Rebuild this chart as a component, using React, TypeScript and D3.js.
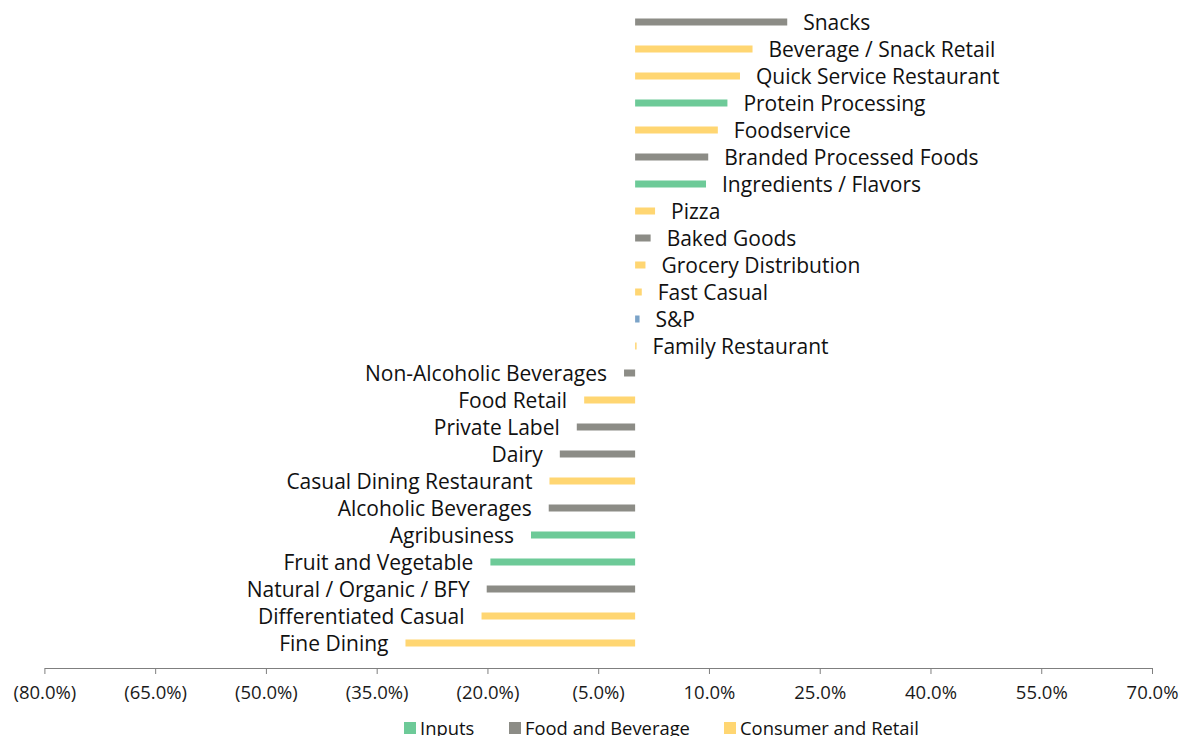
import React, { useEffect, useRef } from "react"
import * as d3 from "d3"

// sector names, top to bottom
const sectors = [
    "Snacks", "Beverage / Snack Retail", "Quick Service Restaurant", "Protein Processing",
    "Foodservice", "Branded Processed Foods", "Ingredients / Flavors", "Pizza", "Baked Goods",
    "Grocery Distribution", "Fast Casual", "S&P", "Family Restaurant", "Non-Alcoholic Beverages",
    "Food Retail", "Private Label", "Dairy", "Casual Dining Restaurant", "Alcoholic Beverages",
    "Agribusiness", "Fruit and Vegetable", "Natural / Organic / BFY", "Differentiated Casual",
    "Fine Dining",
]
const changes = [
    20.6, 15.9, 14.2, 12.5, 11.2, 9.9, 9.6, 2.7, 2.1, 1.4, 0.9, 0.6, 0.2, -1.5,
    -6.9, -7.9, -10.2, -11.6, -11.7, -14.1, -19.6, -20.1, -20.8, -31.1,
]
const groups = [
    "food", "retail", "retail", "inputs", "retail", "food", "inputs", "retail", "food",
    "retail", "retail", "index", "retail", "food", "retail", "food", "food", "retail",
    "food", "inputs", "inputs", "food", "retail", "retail",
]
const tickValues = [-80, -65, -50, -35, -20, -5, 10, 25, 40, 55, 70]
const legendItems = [
    { key: "inputs", label: "Inputs" },
    { key: "food", label: "Food and Beverage" },
    { key: "retail", label: "Consumer and Retail" },
]

const colors = {
    inputs: "#6DCA98",
    food: "#8C8C86",
    retail: "#FFD672",
    index: "#7BA3C8",
}

const W = 1181
const H = 736
const FONT = "'Open Sans', sans-serif"

function fmt(v) {
    const s = Math.abs(v).toFixed(1) + "%"
    return v < 0 ? "(" + s + ")" : s
}

export default function App() {
    const axisRef = useRef(null)

    const x = d3.scaleLinear().domain([-80, 70]).range([44.4, 1152])
    const y = d3.scalePoint().domain(sectors).range([22, 643])
    const barH = 7
    const axisY = 668

    useEffect(() => {
        const g = d3.select(axisRef.current)
        g.call(
            d3.axisBottom(x).tickValues(tickValues).tickSize(6).tickSizeOuter(0).tickFormat(fmt)
        )
        g.select(".domain").attr("stroke", "#7f7f7f")
        g.selectAll(".tick line").attr("stroke", "#7f7f7f")
        g.selectAll(".tick text")
            .attr("font-family", FONT)
            .attr("font-size", 18.5)
            .attr("fill", "#1a1a1a")
            .attr("y", 17.5)
            .attr("dy", "0.71em")
    }, [])

    const legendX = [404, 509, 724]

    return (
        <svg width={W} height={H} style={{ position: "absolute", left: 0, top: 0 }}>
            <rect width={W} height={H} fill="#fff" />
            <g>
                {sectors.map((s, i) => {
                    const v = changes[i]
                    const x0 = x(0)
                    const x1 = x(v)
                    const cy = y(s)
                    return (
                        <g key={s}>
                            <rect
                                x={Math.min(x0, x1)}
                                y={cy - barH / 2}
                                width={Math.abs(x1 - x0)}
                                height={barH}
                                fill={colors[groups[i]]}
                            />
                            <text
                                x={v >= 0 ? x1 + 16 : x1 - 17}
                                y={cy}
                                dy="0.4em"
                                textAnchor={v >= 0 ? "start" : "end"}
                                fontFamily={FONT}
                                fontSize={21}
                                fill="#111"
                            >
                                {s}
                            </text>
                        </g>
                    )
                })}
            </g>
            <g ref={axisRef} transform={"translate(0," + axisY + ")"} />
            <g>
                {legendItems.map((d, i) => (
                    <g key={d.key} transform={"translate(" + legendX[i] + ",722)"}>
                        <rect x={0} y={0} width={12} height={12} fill={colors[d.key]} />
                        <text x={16} y={13} fontFamily={FONT} fontSize={18.4} fill="#111">
                            {d.label}
                        </text>
                    </g>
                ))}
            </g>
        </svg>
    )
}
